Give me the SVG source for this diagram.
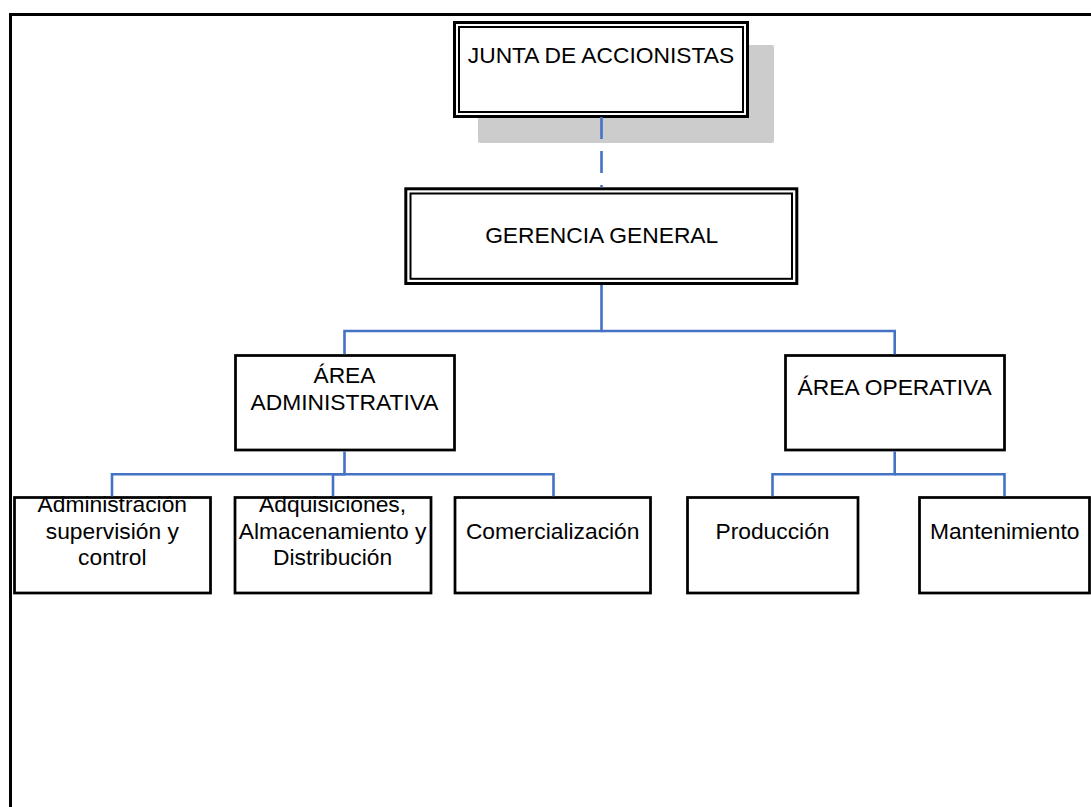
<svg xmlns="http://www.w3.org/2000/svg" width="1091" height="807" viewBox="0 0 1091 807">
<style>
  .box { fill: #ffffff; stroke: #000000; stroke-width: 2.75; }
  .dbl-out { fill: #ffffff; stroke: #000000; stroke-width: 3; }
  .dbl-in { fill: none; stroke: #000000; stroke-width: 2; }
  .conn { fill: none; stroke: #4472C4; stroke-width: 2.6; }
  .dash { stroke-dasharray: 22 12; }
  .t { font-family: "Liberation Sans", Arial, sans-serif; font-size: 22.8px; fill: #000000; text-anchor: middle; }
  .frame { fill: none; stroke: #000000; stroke-width: 3; }
</style>
<rect x="0" y="0" width="1091" height="807" fill="#ffffff"/>
<g id="frame">
  <polyline class="frame" points="10.5,807 10.5,14.5 1091,14.5"/>
</g>
<g id="junta">
  <rect x="478" y="45" width="296" height="98" rx="2" fill="#cccccc"/>
  <rect class="dbl-out" x="454.5" y="22.5" width="293" height="94"/>
  <rect class="dbl-in" x="459" y="27" width="284" height="85"/>
  <text class="t" x="601" y="63.3">JUNTA DE ACCIONISTAS</text>
</g>
<g id="gerencia">
  <rect class="dbl-out" x="405.8" y="188.8" width="391" height="94.7"/>
  <rect class="dbl-in" x="410.5" y="193.5" width="381.5" height="85.3"/>
  <text class="t" x="601.7" y="242.7">GERENCIA GENERAL</text>
</g>
<g id="area-administrativa">
  <rect class="box" x="235.5" y="355.5" width="219" height="94.5"/>
  <text class="t" x="344.5" y="383.3">ÁREA</text>
  <text class="t" x="344.5" y="409.5">ADMINISTRATIVA</text>
</g>
<g id="area-operativa">
  <rect class="box" x="785.5" y="355.5" width="219" height="94.5"/>
  <text class="t" x="894.7" y="395">ÁREA OPERATIVA</text>
</g>
<g id="administracion">
  <rect class="box" x="14.5" y="497.5" width="196" height="95.5"/>
  <text class="t" x="112.3" y="512">Administración</text>
  <text class="t" x="112.3" y="538.7">supervisión y</text>
  <text class="t" x="112.3" y="565.3">control</text>
</g>
<g id="adquisiciones">
  <rect class="box" x="235" y="497.5" width="196" height="95.5"/>
  <text class="t" x="332.6" y="512">Adquisiciones,</text>
  <text class="t" x="332.6" y="538.7">Almacenamiento y</text>
  <text class="t" x="332.6" y="565.3">Distribución</text>
</g>
<g id="comercializacion">
  <rect class="box" x="455" y="497.5" width="195.5" height="95.5"/>
  <text class="t" x="552.7" y="539">Comercialización</text>
</g>
<g id="produccion">
  <rect class="box" x="687.5" y="497.5" width="170.5" height="95.5"/>
  <text class="t" x="772.5" y="539">Producción</text>
</g>
<g id="mantenimiento">
  <rect class="box" x="919.5" y="497.5" width="170" height="95.5"/>
  <text class="t" x="1004.7" y="539">Mantenimiento</text>
</g>
<g id="connectors">
  <line class="conn dash" x1="601.5" y1="117" x2="601.5" y2="187.3"/>
  <polyline class="conn" points="601.5,285 601.5,331 344.5,331 344.5,354.2"/>
  <polyline class="conn" points="601.5,331 894.7,331 894.7,354.2"/>
  <polyline class="conn" points="344.5,451.3 344.5,474.3 112,474.3 112,496.2"/>
  <polyline class="conn" points="344.5,474.3 333,474.3 333,496.2"/>
  <polyline class="conn" points="344.5,474.3 553.5,474.3 553.5,496.2"/>
  <polyline class="conn" points="894.7,451.3 894.7,474.3 772.5,474.3 772.5,496.2"/>
  <polyline class="conn" points="894.7,474.3 1004.5,474.3 1004.5,496.2"/>
</g>
</svg>
